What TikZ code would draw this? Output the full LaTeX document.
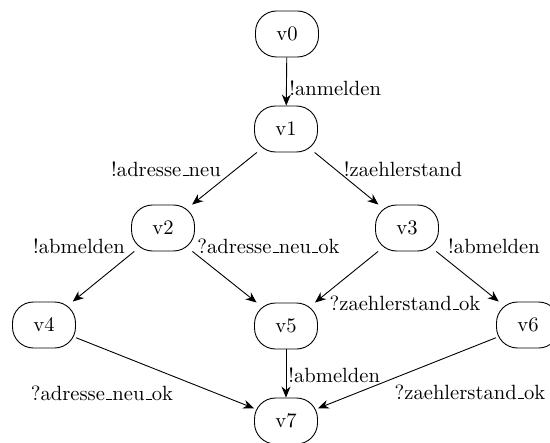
\documentclass[tikz,border=0pt]{standalone}
\usetikzlibrary{arrows.meta}
% short baseline underscore, as in the classic OT1 encoding
\newcommand{\lowbar}{\leavevmode\kern.06em\vbox{\hrule height 0.5pt width .3em}}
\begin{document}
\begin{tikzpicture}[x=0.5pt,y=-0.5pt,
  font=\fontsize{10.3}{12}\selectfont,
  state/.style={draw,rectangle,rounded corners=10.5pt,minimum width=31.5pt,minimum height=23pt,inner sep=1pt,line width=0.45pt},
  lbl/.style={inner sep=0pt},
  trans/.style={-{Stealth[length=5.5pt,width=4.5pt]},line width=0.45pt}]
\useasboundingbox (0,0) rectangle (550,443);
% states
\node[state] (v0) at (287,34)  {v0};
\node[state] (v1) at (286,129) {v1};
\node[state] (v2) at (163,228) {v2};
\node[state] (v3) at (407,228) {v3};
\node[state] (v4) at (44,325)  {v4};
\node[state] (v5) at (286,326) {v5};
\node[state] (v6) at (528,325) {v6};
\node[state] (v7) at (286,421) {v7};
% transitions
\draw[trans] (v0) -- (v1);
\draw[trans] (v1) -- (v2);
\draw[trans] (v1) -- (v3);
\draw[trans] (v2) -- (v4);
\draw[trans] (v2) -- (v5);
\draw[trans] (v3) -- (v5);
\draw[trans] (v3) -- (v6);
\draw[trans] (v4) -- (v7);
\draw[trans] (v5) -- (v7);
\draw[trans] (v6) -- (v7);
% transition labels
\node[lbl,anchor=west] (l01) at (289,88)  {!anmelden};
\node[lbl] (l12) at (166,169) {!adresse\lowbar neu};
\node[lbl] (l13) at (403,169) {!zaehlerstand};
\node[lbl] (l24) at (79,246)  {!abmelden};
\node[lbl,anchor=west] (l25) at (197,246) {?adresse\lowbar neu\lowbar ok};
\node[lbl] (l36) at (494,246) {!abmelden};
\node[lbl] (l35) at (405,303) {?zaehlerstand\lowbar ok};
\node[lbl] (l47) at (102,393) {?adresse\lowbar neu\lowbar ok};
\node[lbl,anchor=west] (l57) at (288,375) {!abmelden};
\node[lbl] (l67) at (470,392) {?zaehlerstand\lowbar ok};
\end{tikzpicture}
\end{document}
